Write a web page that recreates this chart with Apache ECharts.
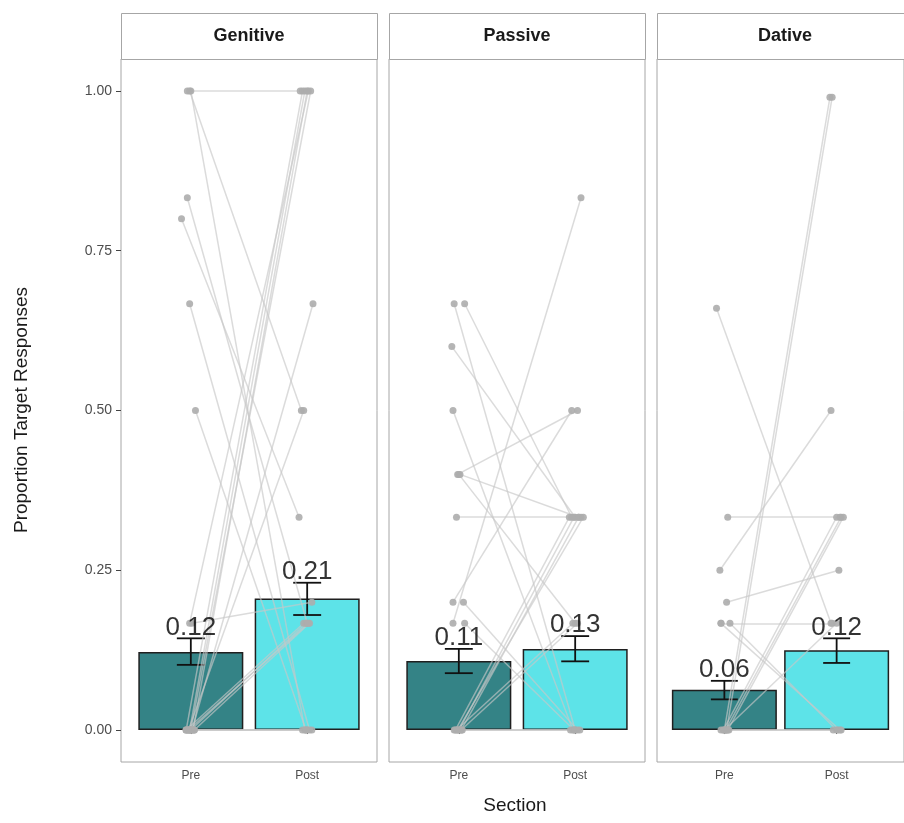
<!DOCTYPE html>
<html>
<head>
<meta charset="utf-8">
<script src="https://cdn.jsdelivr.net/npm/echarts@6/dist/echarts.min.js"></script>
<style>html,body{margin:0;padding:0;background:#fff;}#chart{width:904px;height:823px;}</style>
</head>
<body>
<div id="chart"></div>
<script>
// ---- data ----
const sections = ['Genitive', 'Passive', 'Dative'];
const sessions = ['Pre', 'Post'];
const yTicks = [0, 0.25, 0.5, 0.75, 1];

const meanPre  = [0.122, 0.108, 0.063];
const meanPost = [0.206, 0.127, 0.125];
const errLoPre  = [0.102, 0.089, 0.048];
const errHiPre  = [0.1435, 0.127, 0.077];
const errLoPost = [0.180, 0.1075, 0.105];
const errHiPost = [0.2305, 0.147, 0.1435];
const labelPre  = ['0.12', '0.11', '0.06'];
const labelPost = ['0.21', '0.13', '0.12'];

// individual participants (proportions) and their jittered x positions
const genitivePre   = [1, 1, 1, 0.833, 0.8, 0.667, 0.5, 0.167, 0.167, 0, 0, 0, 0, 0, 0, 0, 0, 0, 0, 0, 0, 0, 0];
const genitivePost  = [1, 0.5, 0, 0.167, 0.333, 0, 0, 0.2, 1, 1, 1, 1, 1, 0.667, 0.5, 0.167, 0.167, 0.167, 0.167, 0, 0, 0, 0];
const genitivePreX  = [0.97, 0.99, 1.0, 0.97, 0.92, 0.99, 1.04, 1.01, 0.99, 0.96, 0.99, 1.02, 1.0, 1.01, 0.98, 0.96, 1.0, 1.03, 0.98, 0.96, 1.0, 1.03, 0.98];
const genitivePostX = [1.94, 1.95, 1.98, 2.0, 1.93, 2.02, 1.99, 2.04, 2.01, 1.96, 1.98, 2.0, 2.03, 2.05, 1.97, 1.97, 1.99, 2.02, 2.01, 1.96, 2.0, 2.04, 1.99];

const passivePre   = [0.667, 0.667, 0.6, 0.5, 0.4, 0.4, 0.4, 0.333, 0.2, 0.2, 0.167, 0.167, 0, 0, 0, 0, 0, 0, 0, 0, 0];
const passivePost  = [0, 0.333, 0.333, 0, 0.5, 0.333, 0.167, 0.333, 0.5, 0, 0.833, 0, 0.333, 0.333, 0.333, 0.333, 0.167, 0.167, 0, 0, 0];
const passivePreX  = [0.96, 1.05, 0.94, 0.95, 0.99, 1.01, 1.0, 0.98, 0.95, 1.04, 0.95, 1.05, 0.97, 1.0, 1.02, 0.99, 0.98, 1.02, 0.96, 1.0, 1.03];
const passivePostX = [2.0, 1.97, 2.0, 1.98, 2.02, 2.03, 2.0, 2.05, 1.97, 2.02, 2.05, 1.99, 1.95, 1.99, 2.03, 2.07, 1.98, 2.02, 1.96, 2.0, 2.04];

const dativePre   = [0.66, 0.333, 0.25, 0.2, 0.167, 0.167, 0.167, 0, 0, 0, 0, 0, 0, 0, 0, 0];
const dativePost  = [0.167, 0.333, 0.5, 0.25, 0.167, 0, 0, 0.99, 0.99, 0.333, 0.333, 0.333, 0.167, 0, 0, 0];
const dativePreX  = [0.93, 1.03, 0.96, 1.02, 0.97, 1.05, 0.97, 1.0, 1.02, 0.99, 1.01, 1.03, 1.0, 0.97, 1.01, 1.04];
const dativePostX = [1.95, 2.03, 1.95, 2.02, 1.96, 2.0, 2.03, 1.94, 1.96, 2.0, 2.04, 2.06, 2.0, 1.97, 2.01, 2.04];

const participants = [
  [genitivePre, genitivePost, genitivePreX, genitivePostX],
  [passivePre, passivePost, passivePreX, passivePostX],
  [dativePre, dativePost, dativePreX, dativePostX]
];

// ---- layout / style ----
const FONT = '"Liberation Sans", Arial, Helvetica, sans-serif';
const panelLeft = [121, 389, 657];
const panelW = 256, panelTop = 59, panelH = 703;
const stripTop = 13;
const preColor = '#348386', postColor = '#5de3e8';

const grids = [], xAxes = [], yAxes = [], series = [], graphics = [];

sections.forEach((name, i) => {
  grids.push({left: panelLeft[i], top: panelTop, width: panelW, height: panelH,
    show: true, borderColor: '#a6a6a6', borderWidth: 1, backgroundColor: '#fff'});
  xAxes.push({type: 'value', gridIndex: i, min: 0.4, max: 2.6,
    axisLine: {show: false}, splitLine: {show: false},
    axisTick: {show: true, customValues: [1, 2], length: 4, lineStyle: {color: '#444', width: 1}},
    axisLabel: {show: true, customValues: [1, 2], margin: 8, color: '#4d4d4d', fontSize: 12, fontFamily: FONT,
      formatter: v => sessions[Math.round(v) - 1]}
  });
  yAxes.push({type: 'value', gridIndex: i, min: -0.05, max: 1.05,
    axisLine: {show: false}, splitLine: {show: false},
    axisTick: {show: i === 0, customValues: yTicks, length: 5, lineStyle: {color: '#444', width: 1}},
    axisLabel: {show: i === 0, customValues: yTicks, margin: 9, color: '#4d4d4d', fontSize: 14, fontFamily: FONT,
      formatter: v => v.toFixed(2)}
  });

  // bars
  series.push({type: 'bar', xAxisIndex: i, yAxisIndex: i, barWidth: 105, z: 2,
    data: [
      {value: [1, meanPre[i]], itemStyle: {color: preColor}},
      {value: [2, meanPost[i]], itemStyle: {color: postColor}}
    ],
    itemStyle: {borderColor: '#1f1f1f', borderWidth: 1.5},
    silent: true
  });

  // error bars
  series.push({type: 'custom', xAxisIndex: i, yAxisIndex: i, z: 4,
    data: [[1, errLoPre[i], errHiPre[i]], [2, errLoPost[i], errHiPost[i]]],
    renderItem: (params, api) => {
      const x = api.value(0);
      const lo = api.coord([x, api.value(1)]);
      const hi = api.coord([x, api.value(2)]);
      const half = api.size([0.12, 0])[0];
      const st = {stroke: '#111', lineWidth: 1.8};
      return {type: 'group', children: [
        {type: 'line', shape: {x1: hi[0], y1: hi[1], x2: lo[0], y2: lo[1]}, style: st},
        {type: 'line', shape: {x1: hi[0] - half, y1: hi[1], x2: hi[0] + half, y2: hi[1]}, style: st},
        {type: 'line', shape: {x1: lo[0] - half, y1: lo[1], x2: lo[0] + half, y2: lo[1]}, style: st}
      ]};
    }
  });

  // participant lines
  const [pre, post, preX, postX] = participants[i];
  series.push({type: 'lines', coordinateSystem: 'cartesian2d', xAxisIndex: i, yAxisIndex: i, z: 5,
    silent: true,
    lineStyle: {color: '#c8c8c8', width: 1.5, opacity: 0.65},
    data: pre.map((v, k) => ({coords: [[preX[k], v], [postX[k], post[k]]]}))
  });
  // participant points
  series.push({type: 'scatter', xAxisIndex: i, yAxisIndex: i, z: 6, silent: true,
    symbolSize: 7, itemStyle: {color: '#adadad', opacity: 0.9},
    data: pre.map((v, k) => [preX[k], v]).concat(post.map((v, k) => [postX[k], v]))
  });

  // mean labels
  series.push({type: 'scatter', xAxisIndex: i, yAxisIndex: i, z: 7, silent: true,
    symbolSize: 0,
    data: [[1, errHiPre[i]], [2, errHiPost[i]]],
    label: {show: true, position: 'top', distance: -2, fontSize: 26, color: '#000', fontFamily: FONT,
      formatter: p => (p.dataIndex === 0 ? labelPre[i] : labelPost[i])}
  });

  // facet strip
  graphics.push({type: 'rect', z: 10,
    shape: {x: panelLeft[i] + 0.5, y: stripTop + 0.5, width: panelW, height: panelTop - stripTop},
    style: {fill: '#fff', stroke: '#a6a6a6', lineWidth: 1}});
  graphics.push({type: 'text', z: 11, x: panelLeft[i] + panelW / 2, y: (stripTop + panelTop) / 2,
    style: {text: name, textAlign: 'center', textVerticalAlign: 'middle',
      font: 'bold 18px ' + FONT, fill: '#1a1a1a'}});
});

graphics.push({type: 'text', z: 11, x: 22, y: 410, rotation: Math.PI / 2,
  style: {text: 'Proportion Target Responses', textAlign: 'center', textVerticalAlign: 'middle',
    font: '19px ' + FONT, fill: '#1a1a1a'}});
graphics.push({type: 'text', z: 11, x: 515, y: 806,
  style: {text: 'Section', textAlign: 'center', textVerticalAlign: 'middle',
    font: '19px ' + FONT, fill: '#1a1a1a'}});

const chart = echarts.init(document.getElementById('chart'), null, {renderer: 'canvas'});
chart.setOption({
  animation: false,
  backgroundColor: '#fff',
  grid: grids,
  xAxis: xAxes,
  yAxis: yAxes,
  series: series,
  graphic: graphics
});
</script>
</body>
</html>
